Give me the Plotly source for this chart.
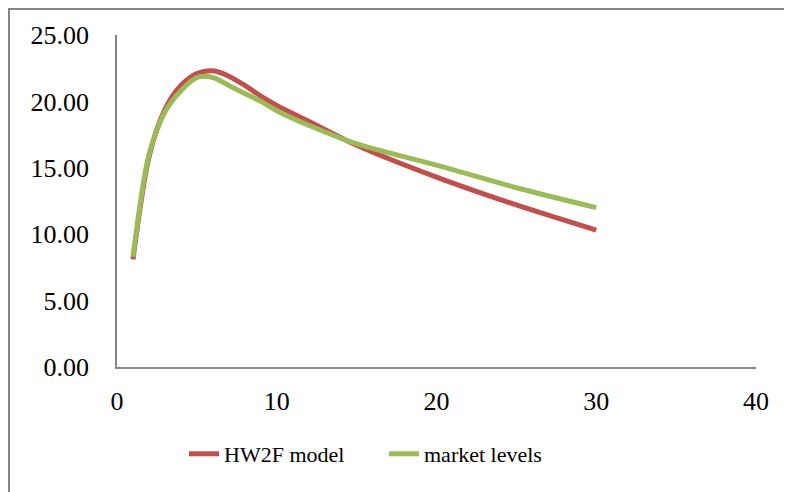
import plotly.graph_objects as go

maturity = [1, 2, 3, 4, 5, 6, 7, 8, 9, 10, 12, 15, 20, 25, 30]
hw2f_model = [8.1, 15.8, 19.4, 21.2, 22.1, 22.3, 21.9, 21.2, 20.4, 19.7, 18.5, 16.7, 14.3, 12.2, 10.3]
market_levels = [8.3, 16.0, 19.2, 20.8, 21.8, 21.8, 21.2, 20.6, 20.0, 19.3, 18.2, 16.8, 15.2, 13.5, 12.0]
x_ticks = [0, 10, 20, 30, 40]
y_ticks = [0, 5, 10, 15, 20, 25]

FONT = "Liberation Serif"
GRAY = "#868686"

fig = go.Figure()
fig.add_trace(go.Scatter(x=maturity, y=hw2f_model, mode="lines", name="HW2F model",
                         line=dict(color="#C0504D", width=5, shape="spline", smoothing=0.8)))
fig.add_trace(go.Scatter(x=maturity, y=market_levels, mode="lines", name="market levels",
                         line=dict(color="#9BBB59", width=5, shape="spline", smoothing=0.8)))

# page is offset by 8px body margin
OFF = 8
W, H = 784, 484
L, T = 117 - OFF, 35 - OFF
pw, ph = 639, 332
R = W - L - pw
B = H - T - ph

def px(X):
    return (X - OFF - L) / pw

def py(Y):
    return (T + ph - (Y - OFF)) / ph

fig.update_layout(
    width=W, height=H,
    margin=dict(l=L, r=R, t=T, b=B),
    paper_bgcolor="white", plot_bgcolor="white",
    font=dict(family=FONT, size=24, color="black"),
    showlegend=True,
    legend=dict(orientation="h", x=px(184), y=py(454), xanchor="left", yanchor="middle",
                font=dict(family=FONT, size=22), entrywidth=155, bgcolor="rgba(0,0,0,0)"),
    xaxis=dict(range=[0, 40], tickvals=x_ticks, showgrid=False, zeroline=False,
               showline=True, linecolor=GRAY, linewidth=1.5, ticks="",
               ticklabelstandoff=10, tickfont=dict(family=FONT, size=26)),
    yaxis=dict(range=[0, 25], tickvals=y_ticks, tickformat=".2f", showgrid=False, zeroline=False,
               showline=True, linecolor=GRAY, linewidth=1.5, ticks="",
               ticklabelstandoff=21, tickfont=dict(family=FONT, size=26)),
    shapes=[dict(type="rect", xref="paper", yref="paper",
                 x0=px(9), x1=px(810), y0=py(510), y1=py(9),
                 line=dict(color=GRAY, width=2), fillcolor="rgba(0,0,0,0)", layer="below")],
)

fig.write_html("out.html")
